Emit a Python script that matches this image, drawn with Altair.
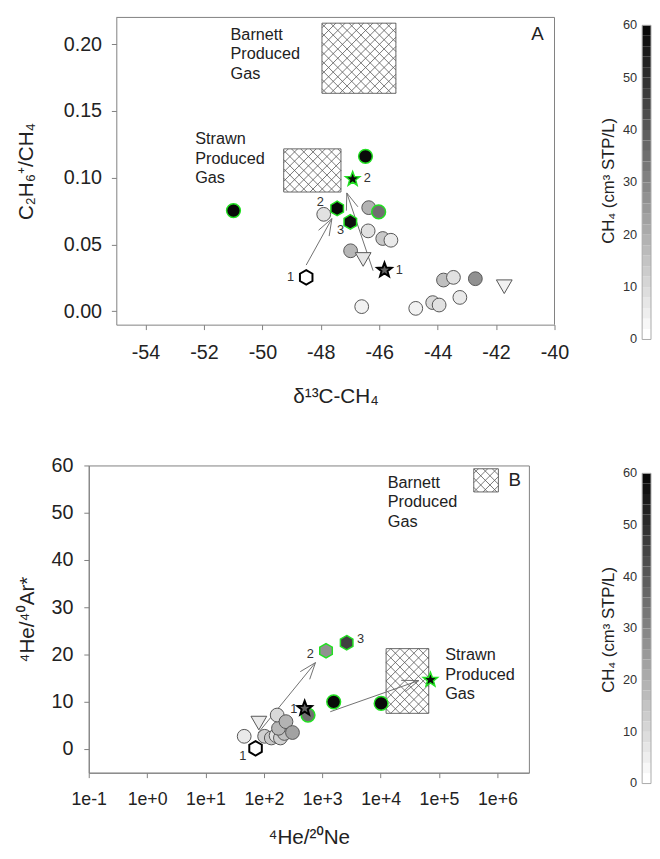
import math
import altair as alt
import pandas as pd

FONT = "Liberation Sans"
TFONT = "Liberation Sans, Noto Sans"
GREEN = "#22e022"
TXT = "#222222"
FRAME = "#808080"

# ---------------- Panel A data ----------------
a_d13c = [-46.60, -44.75, -44.17, -43.95, -43.24, -43.80, -43.46, -42.71, -41.72,
          -47.90, -46.36, -46.38, -45.88, -45.60, -46.98, -46.55,
          -46.02, -50.99, -46.47, -48.50, -45.82, -47.44, -46.99, -46.91]
a_ratio = [0.0035, 0.0022, 0.0065, 0.0047, 0.0104, 0.0234, 0.0254, 0.0244, 0.0184,
           0.0726, 0.0776, 0.0602, 0.0545, 0.0532, 0.0453, 0.0388,
           0.0744, 0.0754, 0.1160, 0.0254, 0.0308, 0.0770, 0.0669, 0.0990]
a_ch4 = [3, 3, 9, 7, 5, 15, 7, 26, 3,
         7, 18, 7, 13, 5, 17, 6,
         34, 58, 58, 0, 37, 58, 56, 58]
a_shape = ["circle"] * 8 + ["tri"] + ["circle"] * 6 + ["tri"] + ["circle"] * 3 + ["hex", "star", "hex", "hex", "star"]
a_edge = ["gray"] * 16 + ["green", "green", "green", "black", "black", "green", "green", "green"]

a_num_idx = [19, 21, 22, 20, 23]
a_num_txt = ["1", "2", "3", "1", "2"]
a_arr_x0 = [-48.50, -46.21]
a_arr_y0 = [0.0346, 0.0304]
a_arr_x1 = [-47.62, -47.11]
a_arr_y1 = [0.0694, 0.0886]
a_box_x0 = [-47.96, -49.27]
a_box_x1 = [-45.43, -47.31]
a_box_y0 = [0.1632, 0.0893]
a_box_y1 = [0.2157, 0.1216]
a_note_x = [-51.09, -52.30]
a_note_y = [0.2030, 0.1250]
a_note_t = [["Barnett", "Produced", "Gas"], ["Strawn", "Produced", "Gas"]]

# ---------------- Panel B data ----------------
b_hene = [46, 103, 134, 162, 192, 225, 178, 169, 239, 309, 82,
          570, 1570, 10200, 72, 500, 1160, 2620, 71300]
b_hear = [2.7, 2.7, 2.35, 2.85, 2.35, 3.3, 4.4, 7.2, 5.8, 3.5, 5.5,
          7.2, 10.0, 9.65, 0.15, 8.6, 20.8, 22.5, 14.65]
b_ch4 = [5, 11, 13, 7, 11, 15, 17, 9, 18, 22, 5,
         34, 58, 58, 0, 37, 26, 45, 58]
b_shape = ["circle"] * 10 + ["tri"] + ["circle"] * 3 + ["hex", "star", "hex", "hex", "star"]
b_edge = ["gray"] * 11 + ["green", "green", "green", "black", "black", "green", "green", "green"]

b_num_idx = [14, 16, 17, 15]
b_num_txt = ["1", "2", "3", "1"]
b_arr_x0 = [79.6, 1371]
b_arr_y0 = [3.4, 7.9]
b_arr_x1 = [766, 45200]
b_arr_y1 = [18.3, 14.5]
b_box_x0 = [3.94e5, 12400]
b_box_x1 = [1.04e6, 66700]
b_box_y0 = [54.4, 7.56]
b_box_y1 = [59.3, 21.25]
b_note_x = [13240, 127700]
b_note_y = [55.2, 18.75]
b_note_t = [["Barnett", "Produced", "Gas"], ["Strawn", "Produced", "Gas"]]

# colour bar
cb_ticks = [0, 10, 20, 30, 40, 50, 60]
cb_lo = list(range(0, 60, 2))
CB_TITLE = "CH₄ (cm³ STP/L)"

# ---------------- geometry / styles ----------------
A_SHIFT = 28          # panel A frame sits this far right of panel B's frame
AW, AH = 445, 312
AXD, AYD = (-55, -40), (-0.01, 0.22)
BW, BH = 447, 312
BXD, BYD = (0.1, 10 ** 6.54), (-5, 60)
LINE_H = 19.5
WING_L, WING_ANG = 18.0, 20.0
HATCH_STEP = 9.4
CB_W = 9


def lin(d0, d1, n, flip=False):
    if flip:
        return (lambda v: (d1 - v) / (d1 - d0) * n), (lambda p: d1 - p / n * (d1 - d0))
    return (lambda v: (v - d0) / (d1 - d0) * n), (lambda p: d0 + p / n * (d1 - d0))


def logs(d0, d1, n):
    l0, l1 = math.log10(d0), math.log10(d1)
    return (lambda v: (math.log10(v) - l0) / (l1 - l0) * n), (lambda p: 10 ** (l0 + p / n * (l1 - l0)))


fxA, ifxA = lin(*AXD, AW)
fyA, ifyA = lin(*AYD, AH, flip=True)
fxB, ifxB = logs(*BXD, BW)
fyB, ifyB = lin(*BYD, BH, flip=True)


def hatch_df(x0s, x1s, y0s, y1s, fx, fy, ifx, ify, step=HATCH_STEP):
    rows = []
    for x0, x1, y0, y1 in zip(x0s, x1s, y0s, y1s):
        px0, px1 = fx(x0), fx(x1)
        py0, py1 = fy(y1), fy(y0)
        W, H = px1 - px0, py1 - py0
        c = -H + step / 2
        while c < W:
            us, ue = max(0.0, c), min(W, H + c)
            if ue > us:
                rows.append((ifx(px0 + us), ify(py0 + us - c), ifx(px0 + ue), ify(py0 + ue - c)))
            c += step
        c = step / 2
        while c < W + H:
            us, ue = max(0.0, c - H), min(W, c)
            if ue > us:
                rows.append((ifx(px0 + us), ify(py0 + c - us), ifx(px0 + ue), ify(py0 + c - ue)))
            c += step
    return pd.DataFrame(rows, columns=["x", "y", "x2", "y2"])


def arrow_df(x0s, y0s, x1s, y1s, fx, fy, ifx, ify):
    rows = []
    for x0, y0, x1, y1 in zip(x0s, y0s, x1s, y1s):
        rows.append((x0, y0, x1, y1))
        px0, py0, px1, py1 = fx(x0), fy(y0), fx(x1), fy(y1)
        d = math.hypot(px1 - px0, py1 - py0)
        ux, uy = (px0 - px1) / d, (py0 - py1) / d
        for s in (-1, 1):
            a = math.radians(WING_ANG) * s
            wx = ux * math.cos(a) - uy * math.sin(a)
            wy = ux * math.sin(a) + uy * math.cos(a)
            rows.append((x1, y1, ifx(px1 + WING_L * wx), ify(py1 + WING_L * wy)))
    return pd.DataFrame(rows, columns=["x", "y", "x2", "y2"])


def note_df(xs, ys, lines, fy, ify):
    rows = []
    for x, y, ls in zip(xs, ys, lines):
        for k, t in enumerate(ls):
            rows.append((x, ify(fy(y) + k * LINE_H), t))
    return pd.DataFrame(rows, columns=["x", "y", "t"])


def star_path(n=5, r_in=0.42):
    pts = []
    for k in range(2 * n):
        r = 1.0 if k % 2 == 0 else r_in
        a = math.pi * k / n - math.pi / 2
        pts.append((r * math.cos(a), r * math.sin(a)))
    return "M" + " L".join(f"{x:.3f},{y:.3f}" for x, y in pts) + " Z"


HEX_PATH = "M0,-1 L0.866,-0.5 L0.866,0.5 L0,1 L-0.866,0.5 L-0.866,-0.5 Z"
STAR_PATH = star_path()

SHAPE_SCALE = alt.Scale(domain=["circle", "hex", "star", "tri"],
                        range=["circle", HEX_PATH, STAR_PATH, "triangle-down"])
SIZE_SCALE = alt.Scale(domain=["circle", "hex", "star", "tri"], range=[196, 256, 380, 225])
EDGE_SCALE = alt.Scale(domain=["gray", "green", "black"], range=["#555555", GREEN, "#000000"])
EW_SCALE = alt.Scale(domain=["gray", "green", "black"], range=[1, 2, 2])
FILL_SCALE = alt.Scale(domain=[0, 60], range=["#ffffff", "#000000"], interpolate="rgb")


def axis(values, fmt, lsize, lpad, tpad, tsize=21, offset=0, hyphen=False):
    kw = {}
    if hyphen:
        kw["labelExpr"] = "replace(datum.label, '\u2212', '-')"
    return alt.Axis(values=values, format=fmt, grid=False, labelFont=FONT, labelFontSize=lsize,
                    labelColor=TXT, titleFont=TFONT, titleFontSize=tsize, titleFontWeight="normal",
                    titleColor=TXT, tickColor=FRAME, domainColor=FRAME, tickSize=5,
                    labelPadding=lpad, titlePadding=tpad, labelFlush=False, labelOverlap=False,
                    labelBound=False, offset=offset, **kw)


def colorbar_layers(cb_domain, bar_x, title_x, title_y):
    Ycb = alt.Y("lo:Q", scale=alt.Scale(domain=cb_domain, nice=False, zero=False), axis=None)
    cdf = pd.DataFrame({"lo": cb_lo, "hi": [v + 2 for v in cb_lo]})
    bars = alt.Chart(cdf).mark_rect().encode(
        y=Ycb, y2="hi:Q", x=alt.value(bar_x), x2=alt.value(bar_x + CB_W),
        fill=alt.Fill("lo:Q", scale=FILL_SCALE, legend=None))
    outline = alt.Chart(pd.DataFrame({"lo": [0], "hi": [60]})).mark_rect(
        fillOpacity=0, stroke="#aaaaaa", strokeWidth=1).encode(
        y=Ycb, y2="hi:Q", x=alt.value(bar_x), x2=alt.value(bar_x + CB_W))
    labels = alt.Chart(pd.DataFrame({"lo": cb_ticks})).mark_text(
        align="right", baseline="middle", font=FONT, fontSize=13, color="#333333").encode(
        y=Ycb, x=alt.value(bar_x - 5), text=alt.Text("lo:Q", format="d"))
    title = alt.Chart(pd.DataFrame({"t": [CB_TITLE]})).mark_text(
        angle=270, align="center", baseline="middle", font=TFONT, fontSize=17, color=TXT).encode(
        x=alt.value(title_x), y=alt.value(title_y), text="t:N")
    return alt.layer(bars, outline, labels, title)


def panel(xs, ys, ch4, shapes, edges, num_idx, num_txt, num_off, arr, boxes, notes,
          X, Y, fx, fy, ifx, ify, letter, letter_pos, width, height, cbar, frame=None):
    df = pd.DataFrame({"x": xs, "y": ys, "ch4": ch4, "shape": shapes, "edge": edges})
    bx0, bx1, by0, by1 = boxes
    boxdf = pd.DataFrame({"x": bx0, "x2": bx1, "y": by0, "y2": by1})
    hdf = hatch_df(bx0, bx1, by0, by1, fx, fy, ifx, ify)
    adf = arrow_df(*arr, fx, fy, ifx, ify)
    ndf_notes = note_df(*notes, fy, ify)

    layers = []
    if frame is not None:
        layers.append(alt.Chart(frame).mark_rule(stroke=FRAME, strokeWidth=1).encode(
            x=X, y=Y, x2="x2:Q", y2="y2:Q"))
    layers += [
        alt.Chart(boxdf).mark_rect(fillOpacity=0, stroke="#666666", strokeWidth=1).encode(
            x=X, y=Y, x2="x2:Q", y2="y2:Q"),
        alt.Chart(hdf).mark_rule(stroke="#555555", strokeWidth=0.8).encode(
            x=X, y=Y, x2="x2:Q", y2="y2:Q"),
        alt.Chart(adf).mark_rule(stroke="#707070", strokeWidth=1).encode(
            x=X, y=Y, x2="x2:Q", y2="y2:Q"),
        alt.Chart(df).mark_point(filled=True, opacity=1).encode(
            x=X, y=Y,
            fill=alt.Fill("ch4:Q", scale=FILL_SCALE, legend=None),
            shape=alt.Shape("shape:N", scale=SHAPE_SCALE, legend=None),
            size=alt.Size("shape:N", scale=SIZE_SCALE, legend=None),
            stroke=alt.Stroke("edge:N", scale=EDGE_SCALE, legend=None),
            strokeWidth=alt.StrokeWidth("edge:N", scale=EW_SCALE, legend=None)),
        alt.Chart(ndf_notes).mark_text(align="left", baseline="alphabetic", font=FONT,
                                       fontSize=16.5, color=TXT).encode(
            x=X, y=Y, text="t:N"),
    ]
    for i, t, (dx, dy) in zip(num_idx, num_txt, num_off):
        ndf = pd.DataFrame({"x": [xs[i]], "y": [ys[i]], "t": [t]})
        layers.append(alt.Chart(ndf).mark_text(dx=dx, dy=dy, font=FONT, fontSize=13,
                                               color="#333333").encode(x=X, y=Y, text="t:N"))
    layers.append(alt.Chart(pd.DataFrame({"t": [letter]})).mark_text(
        align="right", baseline="alphabetic", font=FONT, fontSize=19, color=TXT).encode(
        x=alt.value(letter_pos[0]), y=alt.value(letter_pos[1]), text="t:N"))
    main = alt.layer(*layers)
    view = alt.ViewBackground(stroke=FRAME, strokeWidth=1) if frame is None else \
        alt.ViewBackground(stroke="transparent")
    return alt.layer(main, cbar).resolve_scale(y="independent").properties(
        width=width, height=height, view=view)


XA = alt.X("x:Q", scale=alt.Scale(domain=list(AXD), nice=False, zero=False,
                                  range=[A_SHIFT, A_SHIFT + AW]),
           axis=axis(list(range(-54, -39, 2)), "d", 20, 13, 24, hyphen=True), title="δ¹³C-CH₄")
YA = alt.Y("y:Q", scale=alt.Scale(domain=list(AYD), nice=False, zero=False),
           axis=axis([0, 0.05, 0.10, 0.15, 0.20], ".2f", 20, 10, 27, offset=-A_SHIFT),
           title="C₂H₆⁺/CH₄")
XB = alt.X("x:Q", scale=alt.Scale(type="log", domain=list(BXD), nice=False),
           axis=axis([0.1, 1, 10, 100, 1e3, 1e4, 1e5, 1e6], ".0e", 18, 13, 19, hyphen=True),
           title="⁴He/²⁰Ne")
YB = alt.Y("y:Q", scale=alt.Scale(domain=list(BYD), nice=False, zero=False),
           axis=axis([0, 10, 20, 30, 40, 50, 60], "d", 20, 11, 14), title="⁴He/⁴⁰Ar*")

# top and right edges of panel A's frame (bottom/left come from its axes)
frameA = pd.DataFrame({"x": [AXD[0], AXD[1]], "y": [AYD[1], AYD[0]],
                       "x2": [AXD[1], AXD[1]], "y2": [AYD[1], AYD[1]]})

# colour bars positioned relative to the panels' plot origin
cbarA = colorbar_layers([2.83, 61.5], 562, 528, 166)
cbarB = colorbar_layers([2.1, 61.52], 562, 528, 167)

panelA = panel(a_d13c, a_ratio, a_ch4, a_shape, a_edge, a_num_idx, a_num_txt,
               [(-16, 0), (-17, -6), (-10, 8), (15, 0), (15, -1)],
               (a_arr_x0, a_arr_y0, a_arr_x1, a_arr_y1),
               (a_box_x0, a_box_x1, a_box_y0, a_box_y1),
               (a_note_x, a_note_y, a_note_t),
               XA, YA, fxA, fyA, ifxA, ifyA, "A", (A_SHIFT + 434, 23), A_SHIFT + AW, AH,
               cbarA, frame=frameA)
panelB = panel(b_hene, b_hear, b_ch4, b_shape, b_edge, b_num_idx, b_num_txt,
               [(-13, 8), (-16, 3), (14, -4), (-11, 1)],
               (b_arr_x0, b_arr_y0, b_arr_x1, b_arr_y1),
               (b_box_x0, b_box_x1, b_box_y0, b_box_y1),
               (b_note_x, b_note_y, b_note_t),
               XB, YB, fxB, fyB, ifxB, ifyB, "B", (439, 21), BW, BH, cbarB)

chart = alt.vconcat(panelA, panelB, spacing=48).properties(
    padding={"left": 7, "top": 2, "right": 0, "bottom": 0}, background="white"
)

chart.save("out.html", embed_options={"renderer": "svg", "actions": False})
